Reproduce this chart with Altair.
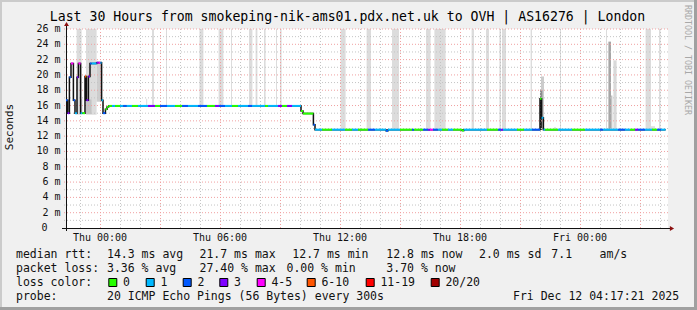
import altair as alt
import pandas as pd

MONO = "DejaVu Sans Mono"
LEFT, TOP = 66, 29
PW, PH = 602, 199

TITLE = "Last 30 Hours from smokeping-nik-ams01.pdx.net.uk to OVH | AS16276 | London"

# ---------------- data (time in hours relative to Thu 00:00) ----------------
X_DOMAIN = [-1.7, 28.4]
Y_DOMAIN = [0, 26]
T_END = 28.28

med_t = [-1.70, -1.62, -1.53, -1.45, -1.33, -1.25, -1.15, -1.08, -0.97, -0.88,
         -0.75, -0.68, -0.58, -0.50, -0.42, -0.17, -0.08, 0.02, 0.08, 0.15,
         0.27, 0.35,
         0.43, 0.60, 0.75, 1.00, 1.17, 1.33, 1.60, 1.90, 2.40, 2.75,
         3.00, 3.35, 3.75, 4.10, 4.40, 4.90, 5.35, 5.75, 5.95, 6.25,
         6.60, 6.90, 7.40, 7.60, 8.25, 8.40, 8.90, 9.10, 9.35, 9.60,
         10.05, 10.15, 10.67, 10.75,
         11.10, 11.60, 12.25, 12.60, 12.90, 13.40, 13.75, 14.30, 14.40, 15.00,
         15.60, 15.70, 16.15, 16.40, 16.50, 16.65, 16.90, 17.10, 17.40, 17.65,
         18.10, 18.20, 19.35, 19.90, 20.05, 20.15, 20.85, 21.20, 21.60,
         22.00, 22.08, 22.17,
         22.25, 22.90, 23.60, 24.25, 25.00, 25.15, 25.90, 26.25, 26.50, 26.75,
         26.90, 27.25, 27.60, 27.85, 28.05]
med_v = [16.7, 15.0, 19.7, 21.5, 16.7, 15.0, 19.7, 21.5, 15.0, 15.0,
         19.8, 16.7, 19.8, 21.5, 21.5, 21.6, 21.6, 21.6, 16.7, 15.0,
         15.5, 15.8,
         15.95, 15.95, 15.95, 15.95, 15.95, 15.95, 15.95, 15.95, 15.95, 15.95,
         15.95, 15.95, 15.95, 15.95, 15.95, 15.95, 15.95, 15.95, 15.95, 15.95,
         15.95, 15.95, 15.95, 15.95, 15.95, 15.95, 15.95, 15.95, 15.95, 15.95,
         15.3, 14.95, 13.5, 12.85,
         12.85, 12.85, 12.85, 12.85, 12.85, 12.85, 12.85, 12.7, 12.85, 12.85,
         12.85, 12.85, 12.85, 12.85, 12.85, 12.85, 12.85, 12.85, 12.85, 12.85,
         12.75, 12.85, 12.85, 12.85, 12.85, 12.85, 12.85, 12.85, 12.85,
         16.9, 14.4, 12.85,
         12.85, 12.85, 12.85, 12.85, 12.85, 12.85, 12.85, 12.85, 12.85, 12.85,
         12.85, 12.85, 12.85, 12.85, 12.85]
med_loss = [2, 3, 2, 4, 2, 1, 3, 4, 1, 0,
            5, 3, 3, 2, 1, 3, 4, 1, 1, 2,
            0, 0,
            0, 1, 0, 1, 2, 1, 0, 1, 3, 0,
            2, 1, 0, 2, 1, 2, 0, 3, 2, 1,
            0, 1, 2, 1, 0, 1, 3, 0, 3, 1,
            0, 0, 2, 1,
            0, 1, 0, 1, 0, 2, 1, 2, 1, 0,
            2, 0, 2, 3, 4, 2, 1, 0, 1, 0,
            0, 1, 0, 2, 3, 1, 0, 1, 2,
            0, 1, 1,
            0, 1, 0, 1, 2, 1, 2, 1, 0, 3,
            2, 1, 0, 2, 1]

band_t1 = [-1.17, -0.70, 2.60, 3.30, 4.97, 5.93, 6.55, 7.45, 7.78, 8.20, 8.80, 9.00,
           12.03, 13.33, 14.60, 16.30, 16.72, 18.58, 19.30, 19.97, 20.10, 21.53,
           23.00, 25.30, 27.28, 27.95]
band_t2 = [-0.92, -0.17, 2.70, 3.35, 5.17, 6.17, 6.60, 7.62, 7.87, 8.28, 8.85, 9.08,
           12.28, 13.55, 14.95, 16.53, 17.28, 18.70, 19.45, 20.05, 20.30, 21.60,
           23.05, 25.35, 27.55, 28.03]
band_lo = [14.8, 14.8, 15.95, 15.95, 15.95, 15.95, 15.95, 15.95, 15.95, 15.95, 15.95, 15.95,
           12.85, 12.85, 12.85, 12.85, 12.85, 12.85, 12.85, 12.85, 12.85, 12.85,
           12.85, 12.85, 12.85, 12.85]

smoke_t1 = [-1.70, -1.00, -0.70, -0.17, 2.30, 22.05, 22.00, 22.00, 22.70, 25.42, 25.55, 25.67, 27.55]
smoke_t2 = [-1.50, -0.88, -0.42, 0.10, 2.36, 22.20, 22.12, 22.10, 22.80, 25.55, 25.62, 25.83, 27.75]
smoke_lo = [14.9, 14.9, 14.9, 16.5, 15.95, 12.85, 12.85, 12.85, 12.85, 12.85, 12.85, 12.85, 12.85]
smoke_hi = [16.8, 16.8, 16.8, 21.8, 16.9, 19.8, 18.0, 16.9, 13.15, 24.35, 17.3, 21.9, 13.3]
smoke_shade = ["#c8c8c8", "#c8c8c8", "#c4c4c4", "#cdcdcd", "#e2e2e2", "#cccccc", "#8c8c8c",
               "#303030", "#dddddd", "#a6a6a6", "#c4c4c4", "#d9d9d9", "#dedede"]

loss_labels = ["0", "1", "2", "3", "4-5", "6-10", "11-19", "20/20"]
loss_colors = ["#26ff00", "#00b8ff", "#0059ff", "#7e00ff", "#ff00ff", "#ff5500", "#ff0000", "#a10000"]

x_tick_hours = [0, 6, 12, 18, 24]
x_tick_labels = ["Thu 00:00", "Thu 06:00", "Thu 12:00", "Thu 18:00", "Fri 00:00"]
y_major = [2, 4, 6, 8, 10, 12, 14, 16, 18, 20, 22, 24, 26]
y_minor = [1, 3, 5, 7, 9, 11, 13, 15, 17, 19, 21, 23, 25]
x_grid_hours = list(range(-1, 29))

rtt_stats = ["median rtt:", "14.3 ms avg", "21.7 ms max", "12.7 ms min", "12.8 ms now", "2.0 ms sd", "7.1", "am/s"]
loss_stats = ["packet loss:", "3.36 % avg", "27.40 % max", "0.00 % min", "3.70 % now"]
probe_text = ["probe:", "20 ICMP Echo Pings (56 Bytes) every 300s", "Fri Dec 12 04:17:21 2025"]

# ---------------- layout helpers ----------------
def ax(x):
    return x - LEFT

def ay(y):
    return y - TOP

one = pd.DataFrame({"d": [0]})
xs = alt.Scale(domain=X_DOMAIN, nice=False, zero=False)
ys = alt.Scale(domain=Y_DOMAIN, nice=False, zero=False)

def prect(x1, x2, y1, y2, color):
    return alt.Chart(one).mark_rect(color=color).encode(
        x=alt.value(ax(x1)), x2=alt.value(ax(x2)), y=alt.value(ay(y1)), y2=alt.value(ay(y2)))

def ptext(text, x, y, size=11.5, align="left", color="#111111", angle=None, baseline="alphabetic"):
    kw = dict(text=text, font=MONO, fontSize=size, align=align, baseline=baseline, color=color)
    if angle is not None:
        kw["angle"] = angle
    return alt.Chart(one).mark_text(**kw).encode(x=alt.value(ax(x)), y=alt.value(ay(y)))

layers = []
# frame
layers += [prect(0, 697, 0, 2, "#cbcbcb"), prect(0, 2, 0, 310, "#cbcbcb"),
           prect(694, 697, 0, 310, "#a0a0a0"), prect(0, 697, 307, 310, "#a0a0a0")]

# full-height smoke bands
bands = pd.DataFrame({"t1": band_t1, "t2": band_t2, "lo": band_lo, "hi": [26] * len(band_t1)})
layers.append(alt.Chart(bands).mark_rect(color="#dcdcdc").encode(
    x=alt.X("t1:Q", scale=xs, axis=None), x2="t2:Q",
    y=alt.Y("lo:Q", scale=ys, axis=None), y2="hi:Q"))

smoke = pd.DataFrame({"t1": smoke_t1, "t2": smoke_t2, "lo": smoke_lo, "hi": smoke_hi, "c": smoke_shade})
layers.append(alt.Chart(smoke).mark_rect().encode(
    x=alt.X("t1:Q", scale=xs, axis=None), x2="t2:Q",
    y=alt.Y("lo:Q", scale=ys, axis=None), y2="hi:Q",
    color=alt.Color("c:N", scale=None)))

# grid
vminor = pd.DataFrame({"t": [h for h in x_grid_hours if h % 3 != 0]})
vmajor = pd.DataFrame({"t": [h for h in x_grid_hours if h % 3 == 0]})
layers.append(alt.Chart(vminor).mark_rule(color="#c4c4c4", strokeDash=[1, 2], xOffset=0.5).encode(
    x=alt.X("t:Q", scale=xs, axis=None), y=alt.value(0), y2=alt.value(PH + 2)))
layers.append(alt.Chart(vmajor).mark_rule(color="#f0a0a0", strokeDash=[1, 2], xOffset=0.5).encode(
    x=alt.X("t:Q", scale=xs, axis=None), y=alt.value(0), y2=alt.value(PH + 2)))
hminor = pd.DataFrame({"v": y_minor})
hmajor = pd.DataFrame({"v": y_major})
layers.append(alt.Chart(hminor).mark_rule(color="#c4c4c4", strokeDash=[1, 2]).encode(
    y=alt.Y("v:Q", scale=ys, axis=None), x=alt.value(-2), x2=alt.value(PW)))
layers.append(alt.Chart(hmajor).mark_rule(color="#f0a0a0", strokeDash=[1, 2]).encode(
    y=alt.Y("v:Q", scale=ys, axis=None), x=alt.value(-2), x2=alt.value(PW)))

# axes
layers.append(alt.Chart(one).mark_rule(color="#111111").encode(
    x=alt.value(-4), x2=alt.value(PW + 2), y=alt.value(PH + 0.5)))
layers.append(alt.Chart(one).mark_rule(color="#111111").encode(
    x=alt.value(0.5), y=alt.value(-4), y2=alt.value(PH + 3)))
layers.append(alt.Chart(one).mark_point(shape="triangle-up", filled=True, color="#8b1010", size=24, opacity=1).encode(
    x=alt.value(0.5), y=alt.value(-5)))
layers.append(alt.Chart(one).mark_point(shape="triangle-right", filled=True, color="#8b1010", size=24, opacity=1).encode(
    x=alt.value(PW + 4), y=alt.value(PH + 0.5)))

# median: black step line + loss-colored segments
step = pd.DataFrame({"t": med_t + [T_END], "v": med_v + [med_v[-1]]})
layers.append(alt.Chart(step).mark_line(interpolate="step-after", color="#111111", strokeWidth=1.5).encode(
    x=alt.X("t:Q", scale=xs, axis=None), y=alt.Y("v:Q", scale=ys, axis=None)))
seg = pd.DataFrame({"t1": med_t, "t2": med_t[1:] + [T_END], "v": med_v,
                    "c": [loss_colors[i] for i in med_loss]})
layers.append(alt.Chart(seg).mark_rule(strokeWidth=2, strokeCap="butt").encode(
    x=alt.X("t1:Q", scale=xs, axis=None), x2="t2:Q",
    y=alt.Y("v:Q", scale=ys, axis=None), color=alt.Color("c:N", scale=None)))

# y labels
ylab = pd.DataFrame({"v": y_major, "s": [f"{v} m" for v in y_major]})
layers.append(alt.Chart(ylab).mark_text(font=MONO, fontSize=10, align="right", baseline="middle", color="#111111").encode(
    y=alt.Y("v:Q", scale=ys, axis=None), x=alt.value(ax(60.5)), text="s:N"))
layers.append(alt.Chart(pd.DataFrame({"v": [0], "s": ["0"]})).mark_text(
    font=MONO, fontSize=10, align="right", baseline="middle", color="#111111").encode(
    y=alt.Y("v:Q", scale=ys, axis=None), x=alt.value(ax(47.5)), text="s:N"))
# x labels
xlab = pd.DataFrame({"t": x_tick_hours, "s": x_tick_labels})
layers.append(alt.Chart(xlab).mark_text(font=MONO, fontSize=10, align="center", baseline="alphabetic", color="#111111").encode(
    x=alt.X("t:Q", scale=xs, axis=None), y=alt.value(ay(240.5)), text="s:N"))

# title & side texts
layers.append(ptext(TITLE, 347.5, 21, size=13.2, align="center", color="#000000"))
layers.append(ptext("Seconds", 10, 127, size=11, align="center", angle=270, baseline="middle"))
layers.append(ptext("RRDTOOL / TOBI OETIKER", 687, 60, size=8.3, align="center", angle=90,
                    baseline="middle", color="#a8a8a8"))

# legend lines
rtt_x = [16, 107, 199.5, 292.3, 386.3, 479, 551.3, 599.6]
for s, x in zip(rtt_stats, rtt_x):
    layers.append(ptext(s, x, 258))
loss_x = [16, 107, 199.5, 286.5, 386.3]
for s, x in zip(loss_stats, loss_x):
    layers.append(ptext(s, x, 272))
layers.append(ptext("loss color:", 16, 285.5))
sw_x = [108.3, 145.7, 182.7, 219.3, 256.7, 306.7, 365.7, 430.7]
for lab, col, x in zip(loss_labels, loss_colors, sw_x):
    layers.append(alt.Chart(one).mark_rect(color=col, stroke="#000000", strokeWidth=1).encode(
        x=alt.value(ax(x) + 0.5), x2=alt.value(ax(x + 8) + 0.5), y=alt.value(ay(278.5)), y2=alt.value(ay(286.5))))
    layers.append(ptext(lab, x + 14.7, 285.5))
probe_x = [16, 107, 513]
for s, x in zip(probe_text, probe_x):
    layers.append(ptext(s, x, 299.5))

chart = alt.layer(*layers).properties(
    width=PW, height=PH,
    padding={"left": LEFT, "top": TOP, "right": 697 - LEFT - PW, "bottom": 310 - TOP - PH},
    autosize=alt.AutoSizeParams(type="none"),
    background="#f0f0f0",
).configure_view(fill="white", stroke=None)

chart.save("out.html", embed_options={"renderer": "svg", "actions": False})
